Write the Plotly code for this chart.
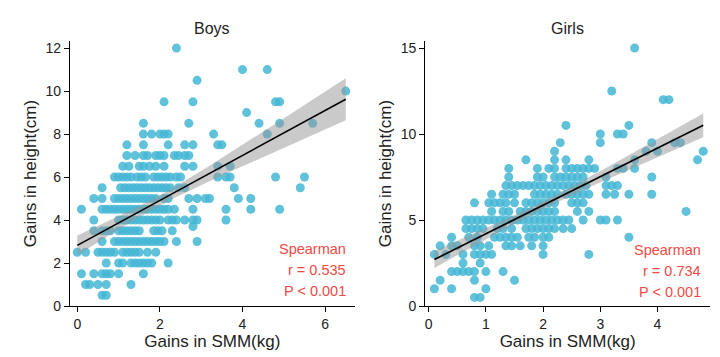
import numpy as np
import plotly.graph_objects as go

# ---------------- data ----------------
# Boys: height gain rows (cm) and the SMM gains (kg) of the points in each row
boys_height_rows = [12, 11, 10.5, 10, 9.5, 9, 8.5, 8, 7.5, 7, 6.5, 6, 5.5, 5, 4.5, 4, 3.7, 3.5, 3, 2.5, 2, 1.5, 1, 0.5]
boys_smm_rows = [
    [2.4],
    [4.0, 4.6],
    [2.9],
    [6.5],
    [2.1, 2.8, 4.8, 4.9],
    [4.1],
    [1.6, 2.7, 4.4, 4.9, 5.7],
    [1.6, 1.8, 2.0, 2.1, 2.2, 3.3, 4.6],
    [1.2, 1.6, 2.2, 2.6, 2.8, 3.4, 3.5],
    [1.2, 1.4, 1.6, 1.7, 1.9, 2.0, 2.1, 2.35, 2.45, 2.6, 2.7],
    [1.1, 1.25, 1.5, 1.6, 1.75, 1.9, 2.1, 2.6, 2.8, 3.4, 3.7],
    [0.9, 1.0, 1.1, 1.2, 1.3, 1.45, 1.55, 1.65, 1.85, 1.95, 2.05, 2.15, 2.25, 2.4, 2.5, 3.4, 3.6, 3.7, 4.8, 5.5],
    [0.6, 1.05, 1.15, 1.25, 1.35, 1.45, 1.55, 1.65, 1.75, 1.85, 1.95, 2.05, 2.15, 2.25, 2.45, 2.6, 3.8, 5.4],
    [0.4, 0.6, 0.9, 1.0, 1.1, 1.2, 1.3, 1.4, 1.5, 1.6, 1.7, 1.8, 1.9, 2.1, 2.2, 2.7, 2.9, 3.1, 3.2, 3.9, 4.2],
    [0.1, 0.6, 0.7, 0.8, 0.9, 1.0, 1.1, 1.2, 1.3, 1.4, 1.5, 1.6, 1.7, 1.8, 1.9, 2.0, 2.1, 2.2, 2.35, 2.8, 3.6, 4.2, 4.9],
    [0.4, 1.0, 1.1, 1.2, 1.3, 1.4, 1.5, 1.6, 1.7, 1.8, 1.9, 2.0, 2.2, 2.3, 2.4, 2.6, 2.8, 2.9, 3.6],
    [2.8],
    [0.4, 0.6, 0.7, 0.8, 1.0, 1.1, 1.2, 1.3, 1.4, 1.5, 1.85, 1.95, 2.05, 2.3],
    [0.6, 0.9, 1.0, 1.1, 1.2, 1.3, 1.4, 1.5, 1.6, 1.7, 1.8, 1.9, 2.0, 2.1, 2.4, 2.9],
    [0.0, 0.2, 0.5, 0.6, 0.7, 0.8, 0.9, 1.1, 1.2, 1.3, 1.4, 1.5, 1.7, 1.9],
    [0.7, 1.0, 1.1, 1.3, 1.4, 1.5, 1.6, 1.7, 1.8, 2.2],
    [0.1, 0.4, 0.6, 0.7, 0.8, 1.0, 1.6],
    [0.2, 0.3, 0.5, 0.7, 1.3],
    [0.6, 0.7],
]

# Girls
girls_height_rows = [15, 12.5, 12, 10.5, 10, 9.5, 9, 8.5, 8, 7.5, 7, 6.5, 6, 5.5, 5, 4.5, 4, 3.5, 3, 2.5, 2, 1.5, 1, 0.5]
girls_smm_rows = [
    [3.6],
    [3.2],
    [4.1, 4.2],
    [2.4, 3.5],
    [3.0, 3.3, 3.4],
    [2.3, 3.0, 3.9, 4.3, 4.4],
    [2.2, 3.8, 4.0, 4.8],
    [1.7, 2.2, 2.4, 2.8, 3.6, 4.7],
    [1.4, 1.9, 2.1, 2.2, 2.4, 2.5, 2.6, 2.7, 2.8, 2.9, 3.3, 3.4, 3.6],
    [1.4, 1.9, 2.0, 2.2, 2.3, 2.4, 2.5, 2.6, 2.7, 3.1, 3.9],
    [1.35, 1.45, 1.55, 1.65, 1.75, 1.85, 1.95, 2.05, 2.15, 2.25, 2.35, 2.45, 2.55, 2.65, 2.75, 3.1, 3.2, 3.3],
    [1.1, 1.3, 1.4, 1.5, 1.85, 1.95, 2.05, 2.15, 2.25, 2.4, 2.5, 2.6, 2.7, 2.8, 3.1, 3.25, 3.5, 3.9],
    [0.8, 1.05, 1.15, 1.25, 1.35, 1.5, 1.7, 1.8, 1.9, 2.0, 2.1, 2.2, 2.5, 2.6, 2.7],
    [1.1, 1.3, 1.4, 1.6, 1.7, 1.8, 1.9, 2.0, 2.1, 2.2, 2.6, 2.8, 4.5],
    [0.65, 0.75, 0.85, 0.95, 1.05, 1.15, 1.25, 1.35, 1.45, 1.55, 1.65, 1.75, 1.85, 1.95, 2.05, 2.15, 2.25, 2.35, 2.45, 2.7, 3.0, 3.1, 3.3],
    [0.65, 0.75, 0.85, 0.95, 1.2, 1.3, 1.45, 1.7, 1.8, 1.9, 2.0, 2.1, 2.2, 2.35, 2.5],
    [0.4, 0.7, 0.85, 1.15, 1.25, 1.35, 1.45, 1.55, 1.75, 1.85, 2.0, 2.1, 3.5],
    [0.2, 0.4, 0.5, 0.8, 0.9, 1.05, 1.35, 1.45, 1.6, 1.8, 2.0],
    [0.1, 0.3, 0.6, 0.8, 0.9, 1.0, 1.1, 2.0, 2.8],
    [0.6, 0.9],
    [0.4, 0.5, 0.6, 0.7, 0.8, 1.0, 1.3],
    [0.2, 0.8, 1.5],
    [0.1, 0.4, 1.0],
    [0.8, 0.9],
]

# Fitted regression lines (intercept, slope)
boys_fit = (2.82, 1.046)
girls_fit = (2.54, 1.66)

panel_titles = ["Boys", "Girls"]
boys_stats = ["Spearman", "r = 0.535", "P < 0.001"]
girls_stats = ["Spearman", "r = 0.734", "P < 0.001"]
x_title = "Gains in SMM(kg)"
y_title = "Gains in height(cm)"
boys_xticks = [0, 2, 4, 6]
boys_yticks = [0, 2, 4, 6, 8, 10, 12]
girls_xticks = [0, 1, 2, 3, 4]
girls_yticks = [0, 5, 10, 15]

# ---------------- build ----------------
def flatten(heights, rows):
    xs, ys = [], []
    for h, row in zip(heights, rows):
        for v in row:
            xs.append(v)
            ys.append(h)
    return np.array(xs), np.array(ys)

bx, by = flatten(boys_height_rows, boys_smm_rows)
gx, gy = flatten(girls_height_rows, girls_smm_rows)

POINT = "rgba(68,182,213,0.85)"
BAND = "rgba(150,150,150,0.5)"
RED = "#F04A45"
FONT = "Liberation Sans, Arial, sans-serif"
PLOT_TOP, PLOT_H = 33, 265

fig = go.Figure()

def add_panel(x, y, fit, xa, ya):
    a, b = fit
    n = len(x)
    xm = x.mean()
    sxx = ((x - xm) ** 2).sum()
    res = y - (a + b * x)
    s = np.sqrt((res ** 2).sum() / (n - 2))
    xl = np.linspace(x.min(), x.max(), 80)
    yl = a + b * xl
    half = 1.97 * s * np.sqrt(1.0 / n + (xl - xm) ** 2 / sxx)
    fig.add_trace(go.Scatter(x=x, y=y, mode="markers", xaxis=xa, yaxis=ya,
                             marker=dict(size=9, color=POINT, line=dict(width=0)),
                             showlegend=False, hoverinfo="skip"))
    fig.add_trace(go.Scatter(x=np.concatenate([xl, xl[::-1]]),
                             y=np.concatenate([yl + half, (yl - half)[::-1]]),
                             fill="toself", fillcolor=BAND, line=dict(width=0),
                             mode="lines", xaxis=xa, yaxis=ya, showlegend=False,
                             hoverinfo="skip"))
    fig.add_trace(go.Scatter(x=xl, y=yl, mode="lines", xaxis=xa, yaxis=ya,
                             line=dict(color="black", width=1.6),
                             showlegend=False, hoverinfo="skip"))

add_panel(bx, by, boys_fit, "x", "y")
add_panel(gx, gy, girls_fit, "x2", "y2")

axis_common = dict(showline=True, linecolor="black", linewidth=1.3, ticks="outside",
                   ticklen=5, tickwidth=1.3, tickcolor="black", showgrid=False,
                   zeroline=False, tickfont=dict(size=14, color="#222", family=FONT),
                   title_font=dict(size=17, color="#222", family=FONT))

fig.update_layout(
    width=720, height=357,
    margin=dict(l=62, r=18, t=PLOT_TOP, b=357 - PLOT_TOP - PLOT_H),
    paper_bgcolor="white", plot_bgcolor="white",
    font=dict(family=FONT),
    xaxis=dict(domain=[0, 0.4448], range=[-0.177, 6.716], tickvals=boys_xticks,
               title=dict(text=x_title, standoff=3), anchor="y", **axis_common),
    yaxis=dict(domain=[0, 1], range=[0, 12.33], tickvals=boys_yticks,
               title=dict(text=y_title, standoff=4), anchor="x", **axis_common),
    xaxis2=dict(domain=[0.5552, 1], range=[-0.059, 4.918], tickvals=girls_xticks,
                title=dict(text=x_title, standoff=3), anchor="y2", **axis_common),
    yaxis2=dict(domain=[0, 1], range=[0, 15.41], tickvals=girls_yticks,
                title=dict(text=y_title, standoff=4), anchor="x2", **axis_common),
)

def paper_y(py):
    return (PLOT_TOP + PLOT_H - py) / PLOT_H

annotations = []
for title, dom in zip(panel_titles, [(0, 0.4448), (0.5552, 1)]):
    annotations.append(dict(text=title, x=(dom[0] + dom[1]) / 2, y=paper_y(20),
                            xref="paper", yref="paper", showarrow=False,
                            xanchor="center", yanchor="middle",
                            font=dict(size=16, color="#222", family=FONT)))
for stats, xr, xright, rows_py in [(boys_stats, "x", 6.545, [241, 262, 283]),
                                   (girls_stats, "x2", 4.79, [242, 263, 284])]:
    for txt, py in zip(stats, rows_py):
        annotations.append(dict(text=txt, x=xright, xref=xr, yref="paper",
                                y=paper_y(py), xanchor="right", yanchor="middle",
                                showarrow=False, font=dict(size=14.5, color=RED, family=FONT)))
fig.update_layout(annotations=annotations)

fig.write_html("out.html")
